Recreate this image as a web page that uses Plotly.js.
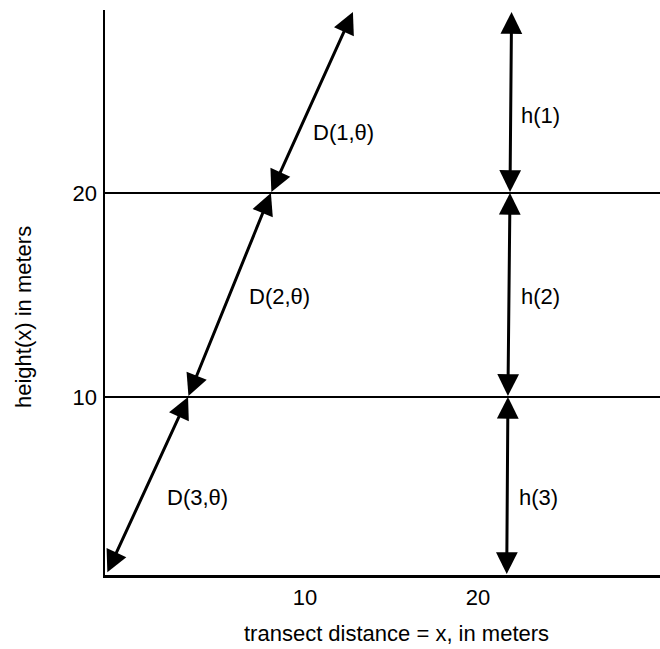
<!DOCTYPE html>
<html>
<head>
<meta charset="utf-8">
<script src="https://cdn.plot.ly/plotly-3.0.1.min.js"></script>
<style>
  html, body { margin: 0; padding: 0; background: #fff; }
  #chart { width: 660px; height: 649px; }
</style>
</head>
<body>
<div id="chart"></div>
<script>
// Slanted transect line D(k, theta): points from ground up to top
const slantX = [-1.45, 3.24, 8.03, 12.77];
const slantY = [1.35, 10, 20, 28.87];
// Vertical height line h(k)
const vertX = [21.66, 21.73, 21.85, 21.94];
const vertY = [1.27, 10, 20, 28.87];
// Layer boundaries (grid lines)
const layerHeights = [10, 20];
// Labels
const slantLabels = ['D(3,\u03b8)', 'D(2,\u03b8)', 'D(1,\u03b8)'];
const slantLabelX = [3.76, 8.55, 12.2];
const slantLabelY = [5.05, 14.9, 22.94];
const vertLabels = ['h(3)', 'h(2)', 'h(1)'];
const vertLabelX = [23.5, 23.6, 23.6];
const vertLabelY = [5.05, 14.9, 23.8];
// Axis ticks and titles
const xTickVals = [10, 20];
const yTickVals = layerHeights;
const xTitle = 'transect distance = x, in meters';
const yTitle = 'height(x) in meters';

const FONT = 'Liberation Sans, Arial, Helvetica, sans-serif';
const TXT = {family: FONT, size: 22, color: '#000'};

const annotations = [];
function addSegments(xs, ys) {
  for (let i = 0; i < xs.length - 1; i++) {
    annotations.push({
      x: xs[i + 1], y: ys[i + 1], xref: 'x', yref: 'y',
      ax: xs[i], ay: ys[i], axref: 'x', ayref: 'y',
      text: ' ', font: {size: 1}, borderpad: 0,
      showarrow: true, arrowside: 'end+start',
      arrowhead: 2, startarrowhead: 2,
      arrowsize: 1.45, startarrowsize: 1.45,
      arrowwidth: 3, arrowcolor: '#000'
    });
  }
}
addSegments(slantX, slantY);
addSegments(vertX, vertY);

function addLabels(labels, xs, ys) {
  labels.forEach((t, i) => annotations.push({
    x: xs[i], y: ys[i], xref: 'x', yref: 'y', text: t,
    showarrow: false, font: TXT
  }));
}
addLabels(slantLabels, slantLabelX, slantLabelY);
addLabels(vertLabels, vertLabelX, vertLabelY);

// axis titles placed as in the reference (slightly off-centre)
annotations.push({
  xref: 'paper', yref: 'paper', x: 0.526, y: -0.1027,
  xanchor: 'center', yanchor: 'middle', text: xTitle,
  showarrow: false, font: TXT
});
annotations.push({
  xref: 'paper', yref: 'paper', x: -0.1477, y: 0.4566,
  xanchor: 'center', yanchor: 'middle', text: yTitle, textangle: -90,
  showarrow: false, font: TXT
});

const layout = {
  width: 660, height: 649,
  margin: {l: 105, r: 0, t: 10, b: 74},
  paper_bgcolor: '#fff', plot_bgcolor: '#fff',
  showlegend: false,
  font: TXT,
  xaxis: {
    range: [-1.56, 30.52], tickvals: xTickVals, ticktext: xTickVals.map(String),
    showgrid: false, zeroline: false, showline: true, linecolor: '#000', linewidth: 2.5,
    ticks: '', ticklabelstandoff: 1,
    tickfont: TXT,
    fixedrange: true
  },
  yaxis: {
    range: [1.27, 28.97], tickvals: yTickVals, ticktext: yTickVals.map(String),
    showgrid: true, gridcolor: '#000', gridwidth: 2,
    zeroline: false, showline: true, linecolor: '#000', linewidth: 2.5,
    ticks: '', ticklabelstandoff: 1,
    tickfont: TXT,
    fixedrange: true
  },
  annotations: annotations
};

Plotly.newPlot('chart', [{x: [], y: [], type: 'scatter', mode: 'lines', hoverinfo: 'skip'}], layout, {displayModeBar: false, staticPlot: true});
</script>
</body>
</html>
